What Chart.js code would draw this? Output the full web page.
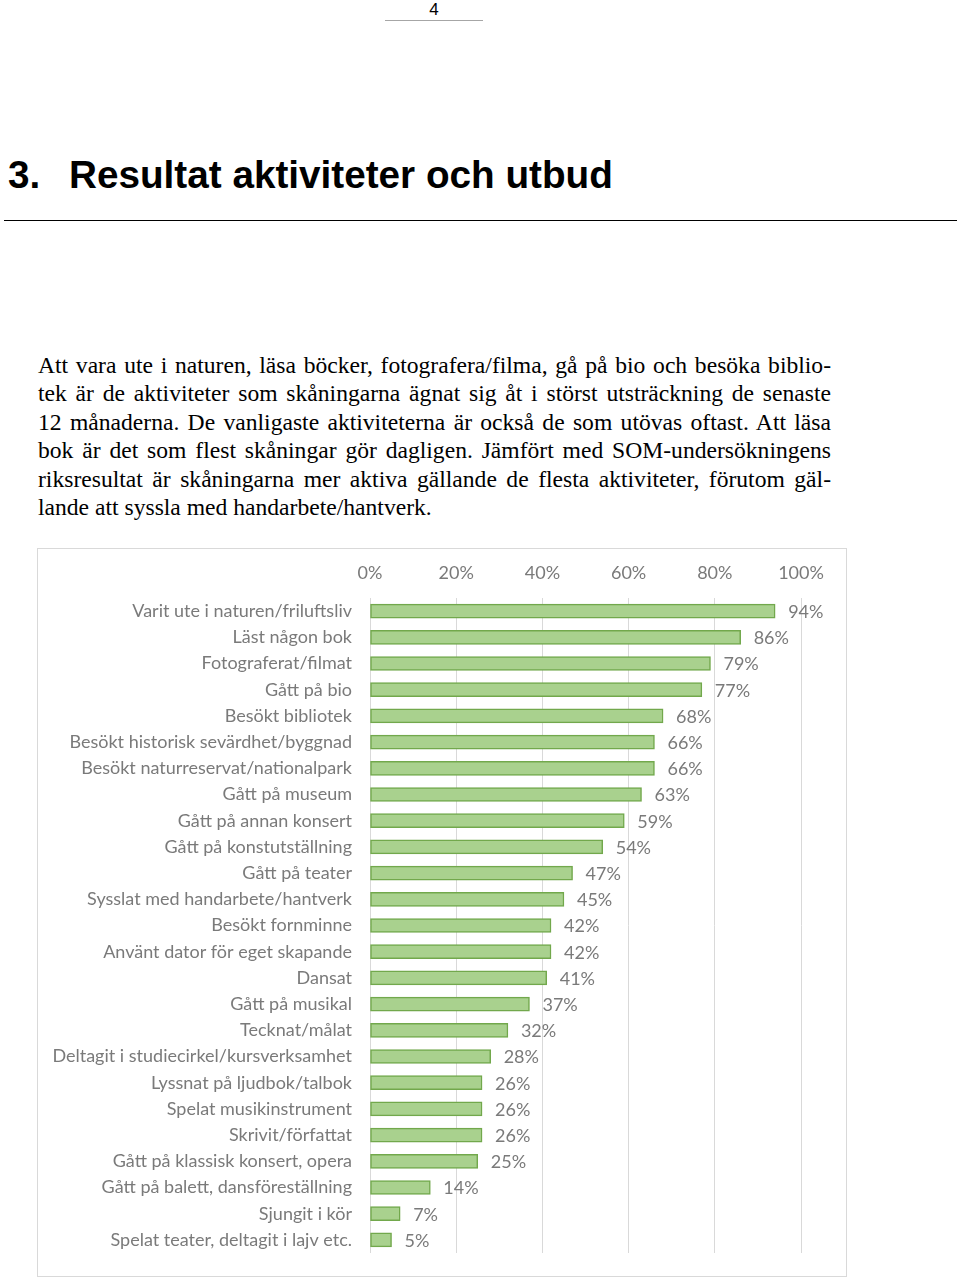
<!DOCTYPE html>
<html>
<head>
<meta charset="utf-8">
<script src="https://cdn.jsdelivr.net/npm/chart.js@4"></script>
<style>
  html, body { margin: 0; padding: 0; background: #fff; }
  body { width: 960px; height: 1279px; position: relative; overflow: hidden; }
  #pnum { position: absolute; left: 384px; width: 100px; top: 0px; text-align: center; font: 17px "Liberation Sans", Arial, sans-serif; color: #000; }
  #pline { position: absolute; left: 385px; width: 98px; top: 20px; height: 0; border-top: 1.5px solid #a6a6a6; }
  #heading { position: absolute; left: 8px; top: 153px; font: bold 38.7px "Liberation Sans", Arial, sans-serif; color: #000; white-space: nowrap; }
  #heading .num { display: inline-block; width: 61px; }
  #hrule { position: absolute; left: 4px; width: 953px; top: 220px; border-top: 1px solid #000; }
  #para { position: absolute; left: 38px; width: 793px; top: 351px; font: 23.6px "Liberation Serif", "Times New Roman", serif; color: #000; line-height: 28.4px; }
  #para .l { text-align: justify; text-align-last: justify; white-space: nowrap; }
  #para .last { text-align: left; text-align-last: left; }
  #box { position: absolute; left: 37px; top: 548px; width: 808px; height: 727px; border: 1px solid #d9d9d9; }
  #box canvas { position: absolute; left: 0; top: 0; }
</style>
</head>
<body>
<div id="pnum">4</div>
<div id="pline"></div>
<div id="heading"><span class="num">3.</span>Resultat aktiviteter och utbud</div>
<div id="hrule"></div>
<div id="para">
  <div class="l">Att vara ute i naturen, läsa böcker, fotografera/filma, gå på bio och besöka biblio-</div>
  <div class="l">tek är de aktiviteter som skåningarna ägnat sig åt i störst utsträckning de senaste</div>
  <div class="l">12 månaderna. De vanligaste aktiviteterna är också de som utövas oftast. Att läsa</div>
  <div class="l">bok är det som flest skåningar gör dagligen. Jämfört med SOM-undersökningens</div>
  <div class="l">riksresultat är skåningarna mer aktiva gällande de flesta aktiviteter, förutom gäl-</div>
  <div class="l last">lande att syssla med handarbete/hantverk.</div>
</div>
<div id="box"><canvas id="c" width="808" height="727"></canvas></div>
<script>
const categories = [
  "Varit ute i naturen/friluftsliv",
  "Läst någon bok",
  "Fotograferat/filmat",
  "Gått på bio",
  "Besökt bibliotek",
  "Besökt historisk sevärdhet/byggnad",
  "Besökt naturreservat/nationalpark",
  "Gått på museum",
  "Gått på annan konsert",
  "Gått på konstutställning",
  "Gått på teater",
  "Sysslat med handarbete/hantverk",
  "Besökt fornminne",
  "Använt dator för eget skapande",
  "Dansat",
  "Gått på musikal",
  "Tecknat/målat",
  "Deltagit i studiecirkel/kursverksamhet",
  "Lyssnat på ljudbok/talbok",
  "Spelat musikinstrument",
  "Skrivit/författat",
  "Gått på klassisk konsert, opera",
  "Gått på balett, dansföreställning",
  "Sjungit i kör",
  "Spelat teater, deltagit i lajv etc."
];
const values = [94, 86, 79, 77, 68, 66, 66, 63, 59, 54, 47, 45, 42, 42, 41, 37, 32, 28, 26, 26, 26, 25, 14, 7, 5];
const xTicks = [0, 20, 40, 60, 80, 100];

const FONT = "Lato, Carlito, Calibri, sans-serif";
const GRAY = "#7a7a7a";

const valueLabels = {
  id: 'valueLabels',
  afterDatasetsDraw(chart) {
    const ctx = chart.ctx;
    const meta = chart.getDatasetMeta(0);
    const xs = chart.scales.x;
    ctx.save();
    ctx.font = "18px " + FONT;
    ctx.fillStyle = GRAY;
    ctx.textAlign = 'left';
    ctx.textBaseline = 'middle';
    meta.data.forEach((bar, i) => {
      const v = values[i];
      ctx.fillText(v + '%', xs.getPixelForValue(v) + 13, bar.y + 1);
    });
    ctx.restore();
  }
};

new Chart(document.getElementById('c'), {
  type: 'bar',
  data: {
    labels: categories,
    datasets: [{
      data: values,
      backgroundColor: '#a9d18e',
      borderColor: '#72a84c',
      borderWidth: 1.5,
      borderSkipped: false,
      barThickness: 14
    }]
  },
  options: {
    indexAxis: 'y',
    responsive: false,
    animation: false,
    layout: { padding: { left: 0, right: 45, top: 0, bottom: 23 } },
    plugins: { legend: { display: false }, tooltip: { enabled: false } },
    scales: {
      x: {
        position: 'top',
        min: 0, max: 100,
        afterBuildTicks(s) { s.ticks = xTicks.map(v => ({ value: v })); },
        afterFit(s) { s.height = 49; },
        grid: { color: '#d9d9d9', drawTicks: false, lineWidth: 1 },
        border: { display: false },
        ticks: { padding: 14, color: GRAY, font: { family: FONT, size: 18 }, callback: v => v + '%' }
      },
      y: {
        afterFit(s) { s.width = 332; s.paddingTop = 0; s.paddingBottom = 0; },
        grid: { display: false, drawTicks: false },
        border: { display: false },
        ticks: { padding: 18, color: GRAY, font: { family: FONT, size: 18 }, autoSkip: false }
      }
    }
  },
  plugins: [valueLabels]
});
</script>
</body>
</html>
